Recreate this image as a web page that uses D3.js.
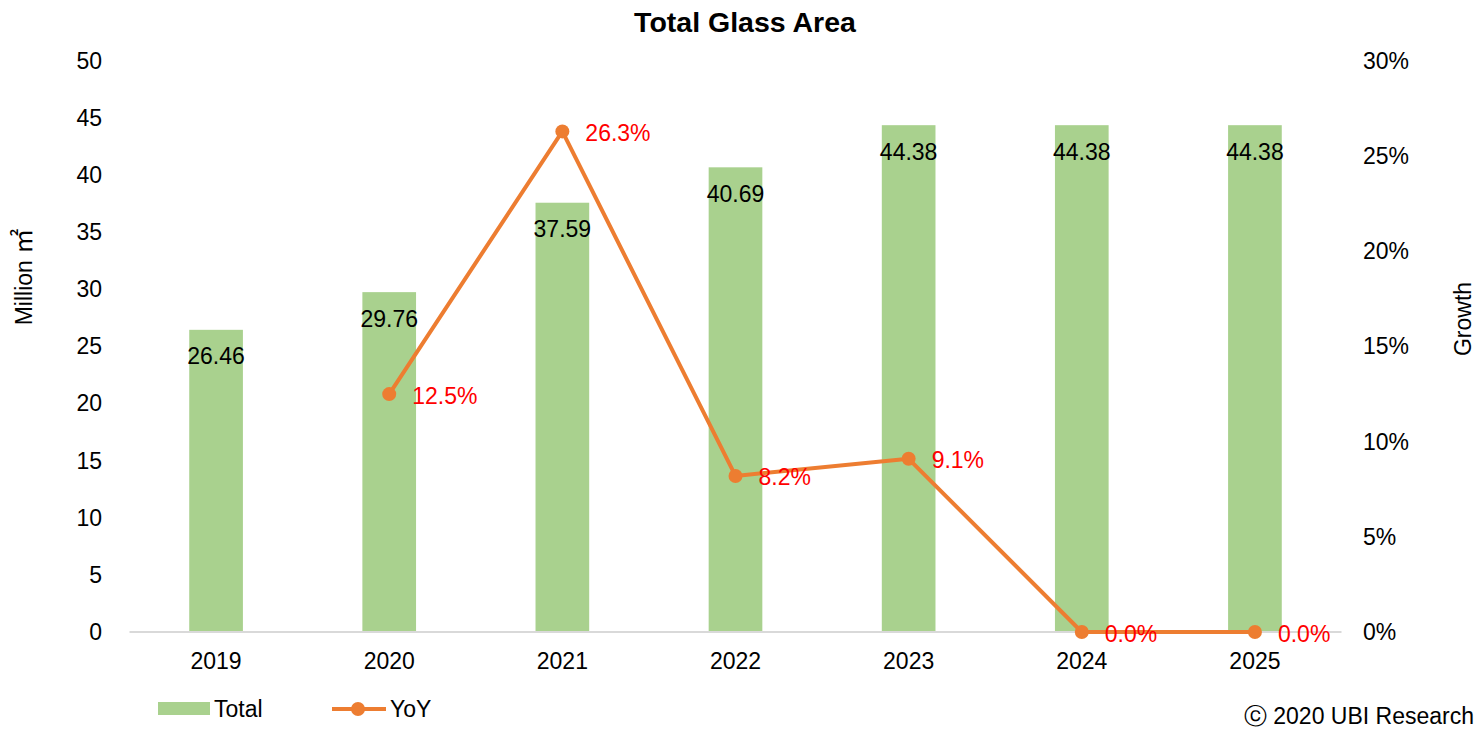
<!DOCTYPE html>
<html>
<head>
<meta charset="utf-8">
<script src="https://cdn.jsdelivr.net/npm/d3@7"></script>
<style>
html,body{margin:0;padding:0;background:#fff;}
svg{display:block;font-family:"Liberation Sans",Arial,sans-serif;}
</style>
</head>
<body>
<svg id="chart" width="1477" height="729"></svg>
<script>
const years = ["2019","2020","2021","2022","2023","2024","2025"];
const totals = [26.46, 29.76, 37.59, 40.69, 44.38, 44.38, 44.38];
const yoy = [null, 12.5, 26.3, 8.2, 9.1, 0.0, 0.0];
const leftTicks = [0,5,10,15,20,25,30,35,40,45,50];
const rightTicks = [0,5,10,15,20,25,30];

const FS = 23;
const FF = "Liberation Sans, Arial, sans-serif";
const svg = d3.select("#chart");
const m = {left:129.5, right:1341.5, top:61, bottom:632};

const x = d3.scaleBand().domain(years).range([m.left, m.right]).paddingInner(0.69).paddingOuter(0.345);
const yL = d3.scaleLinear().domain([0,50]).range([m.bottom, m.top]);
const yR = d3.scaleLinear().domain([0,30]).range([m.bottom, m.top]);

// title
svg.append("text").attr("x", 745).attr("y", 32).attr("text-anchor","middle")
  .attr("font-size", 28.5).attr("font-weight","bold").attr("fill","#000").text("Total Glass Area");

// left axis
const gL = svg.append("g").attr("transform",`translate(${m.left},0)`)
  .call(d3.axisLeft(yL).tickValues(leftTicks).tickSize(0).tickPadding(27.5));
gL.select(".domain").remove();
gL.selectAll("text").attr("font-size",FS).attr("fill","#000").attr("font-family",FF);

// right axis
const gR = svg.append("g").attr("transform",`translate(${m.right},0)`)
  .call(d3.axisRight(yR).tickValues(rightTicks).tickSize(0).tickPadding(21.5).tickFormat(d=>d+"%"));
gR.select(".domain").remove();
gR.selectAll("text").attr("font-size",FS).attr("fill","#000").attr("font-family",FF);

// bars
svg.append("g").selectAll("rect").data(years).join("rect")
  .attr("x", d=>x(d)).attr("width", x.bandwidth())
  .attr("y", (d,i)=>yL(totals[i])).attr("height",(d,i)=>yL(0)-yL(totals[i]))
  .attr("fill","#A9D18E");

// x axis line
svg.append("line").attr("x1",m.left).attr("x2",m.right).attr("y1",yL(0)).attr("y2",yL(0))
  .attr("stroke","#D9D9D9").attr("stroke-width",2);

// bar labels
svg.append("g").selectAll("text").data(years).join("text")
  .attr("x", d=>x(d)+x.bandwidth()/2).attr("y",(d,i)=>yL(totals[i])+26.5)
  .attr("dy","0.35em").attr("text-anchor","middle").attr("font-size",FS).attr("fill","#000")
  .text((d,i)=>totals[i].toFixed(2));

// x tick labels
const gX = svg.append("g").attr("transform",`translate(0,${m.bottom})`)
  .call(d3.axisBottom(x).tickSize(0).tickPadding(21));
gX.select(".domain").remove();
gX.selectAll("text").attr("font-size",FS).attr("fill","#000").attr("font-family",FF);

// YoY line
const pts = years.map((d,i)=>({d, v:yoy[i]})).filter(p=>p.v!==null);
const cx = d=>x(d)+x.bandwidth()/2;
svg.append("path").datum(pts)
  .attr("d", d3.line().x(p=>cx(p.d)).y(p=>yR(p.v)))
  .attr("fill","none").attr("stroke","#ED7D31").attr("stroke-width",4).attr("stroke-linejoin","round");
svg.append("g").selectAll("circle").data(pts).join("circle")
  .attr("cx",p=>cx(p.d)).attr("cy",p=>yR(p.v)).attr("r",7).attr("fill","#ED7D31");
svg.append("g").selectAll("text").data(pts).join("text")
  .attr("x",p=>cx(p.d)+23).attr("y",p=>yR(p.v)+1.5).attr("dy","0.35em")
  .attr("font-size",FS).attr("fill","#FF0000").text(p=>p.v.toFixed(1)+"%");

// axis titles
const yt = svg.append("text").attr("transform","translate(32,277) rotate(-90)").attr("text-anchor","middle")
  .attr("font-size",FS).attr("fill","#000");
yt.append("tspan").text("Million ");
yt.append("tspan").attr("font-family","Noto Sans CJK KR").attr("font-size",25).text("㎡");
svg.append("text").attr("transform","translate(1471,319) rotate(-90)").attr("text-anchor","middle")
  .attr("font-size",FS).attr("fill","#000").text("Growth");

// legend
const lg = svg.append("g");
lg.append("rect").attr("x",158).attr("y",702).attr("width",52).attr("height",13).attr("fill","#A9D18E");
lg.append("text").attr("x",214).attr("y",709).attr("dy","0.35em").attr("font-size",FS).attr("fill","#000").text("Total");
lg.append("line").attr("x1",332).attr("x2",386).attr("y1",709).attr("y2",709).attr("stroke","#ED7D31").attr("stroke-width",4);
lg.append("circle").attr("cx",358).attr("cy",709).attr("r",7).attr("fill","#ED7D31");
lg.append("text").attr("x",390).attr("y",709).attr("dy","0.35em").attr("font-size",FS).attr("fill","#000").text("YoY");

// copyright
svg.append("text").attr("x",1474).attr("y",724).attr("text-anchor","end").attr("font-size",FS).attr("fill","#000").text("ⓒ 2020 UBI Research");
</script>
</body>
</html>
